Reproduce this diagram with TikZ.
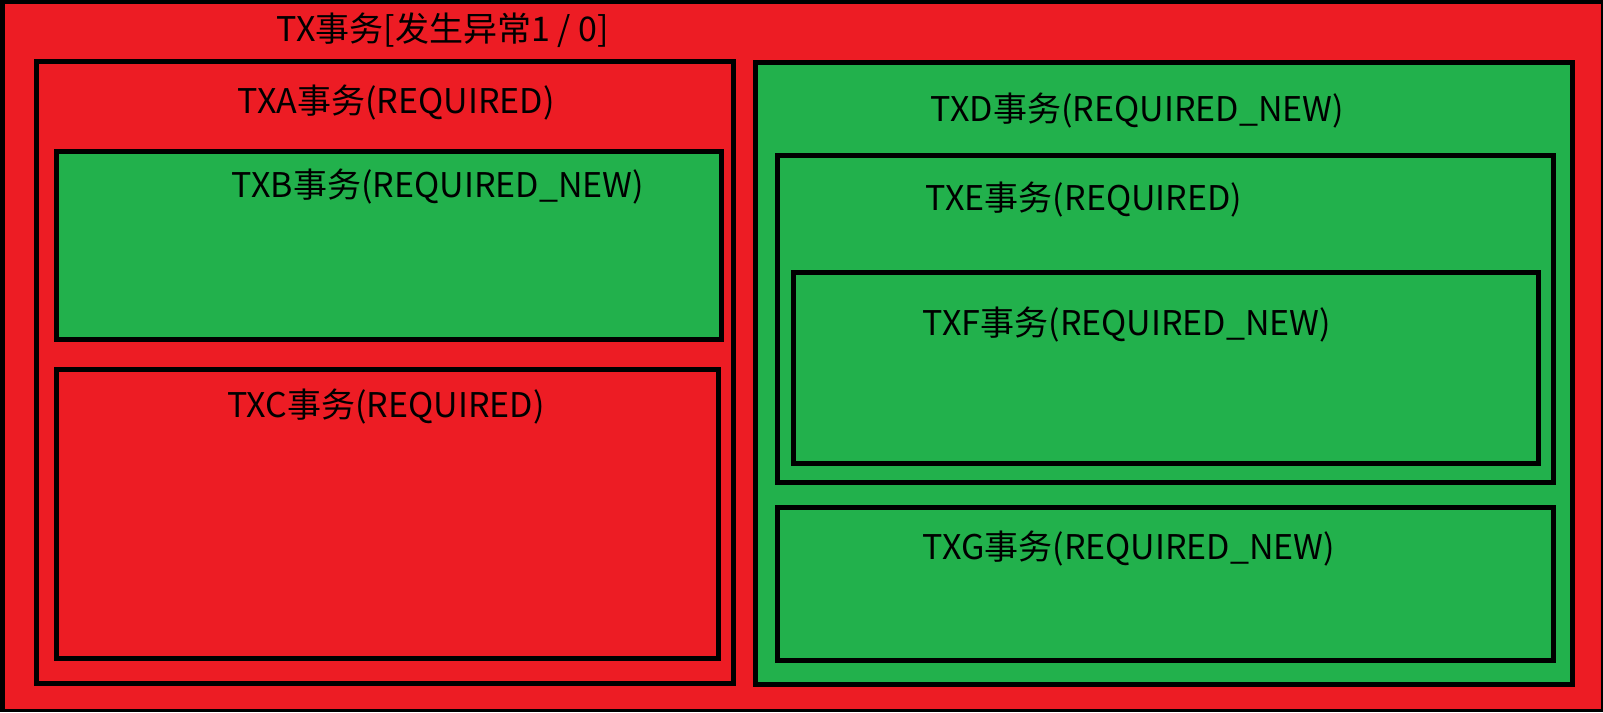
\documentclass[tikz,border=0pt]{standalone}
\usepackage{fontspec}
\newfontfamily\cjkfont{Noto Sans CJK SC}
\definecolor{pred}{HTML}{ED1C24}
\definecolor{pgreen}{HTML}{22B14C}
\begin{document}
\begin{tikzpicture}[x=1pt,y=-1pt,
  box/.style={draw=black,line width=5pt,rectangle,inner sep=0pt,outer sep=0pt},
  redbox/.style={box,fill=pred},
  greenbox/.style={box,fill=pgreen},
  lbl/.style={anchor=base,inner sep=0pt,font=\cjkfont\fontsize{34}{38}\selectfont,text=black}]
\useasboundingbox (0,0) rectangle (1603,712);
\fill[black] (0,0) rectangle (1603,712);
\fill[pred] (5,4) rectangle (1601,709);
% boxes
\node[redbox,minimum width=697pt,minimum height=622pt] (txa) at (385,372.5) {};
\node[greenbox,minimum width=665pt,minimum height=187.5pt] (txb) at (389,245.25) {};
\node[redbox,minimum width=661.5pt,minimum height=289.5pt] (txc) at (387.25,513.75) {};
\node[greenbox,minimum width=817pt,minimum height=621.5pt] (txd) at (1164,373.25) {};
\node[greenbox,minimum width=776pt,minimum height=327pt] (txe) at (1165.5,319) {};
\node[greenbox,minimum width=745pt,minimum height=191pt] (txf) at (1166,368) {};
\node[greenbox,minimum width=776pt,minimum height=153pt] (txg) at (1165.5,584) {};
% labels
\node[lbl] (ltx) at (443,41) {TX事务[发生异常1 / 0]};
\node[lbl] (ltxa) at (396,113) {TXA事务(REQUIRED)};
\node[lbl] (ltxb) at (438,197) {TXB事务(REQUIRED\_NEW)};
\node[lbl] (ltxc) at (386,417) {TXC事务(REQUIRED)};
\node[lbl] (ltxd) at (1137.5,121) {TXD事务(REQUIRED\_NEW)};
\node[lbl] (ltxe) at (1084,210) {TXE事务(REQUIRED)};
\node[lbl] (ltxf) at (1127,335) {TXF事务(REQUIRED\_NEW)};
\node[lbl] (ltxg) at (1129,559) {TXG事务(REQUIRED\_NEW)};
\end{tikzpicture}
\end{document}
